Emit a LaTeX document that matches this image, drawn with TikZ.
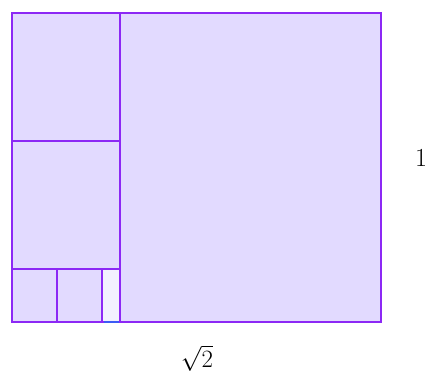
\documentclass[tikz,border=0pt]{standalone}
\definecolor{lineviolet}{RGB}{140,40,245}
\definecolor{fillviolet}{RGB}{226,218,255}
\definecolor{fillpale}{RGB}{242,240,255}
\definecolor{lineblue}{RGB}{60,90,245}
\begin{document}
\begin{tikzpicture}[x=1pt,y=-1pt,
  edge/.style={draw=lineviolet,line width=2.4pt},
  lab/.style={inner sep=0pt}]
\useasboundingbox (0,0) rectangle (428,374);
\fill[fillviolet] (12,13) rectangle (381,322);
\fill[fillpale] (102,269) rectangle (120,322);
\draw[edge] (12,13) rectangle (381,322);
\draw[edge] (120,13) -- (120,322);
\draw[edge] (12,141) -- (120,141);
\draw[edge] (12,269) -- (120,269);
\draw[edge] (57,269) -- (57,322);
\draw[edge] (102,269) -- (102,322);
\draw[draw=lineblue,line width=2.4pt] (103.5,322) -- (118.5,322);
\node[lab,font=\fontsize{26}{30}\selectfont] (one) at (421,158) {1};
\node[lab,font=\fontsize{24}{28}\selectfont] (sq) at (197,358) {$\sqrt{2}$};
\end{tikzpicture}
\end{document}
